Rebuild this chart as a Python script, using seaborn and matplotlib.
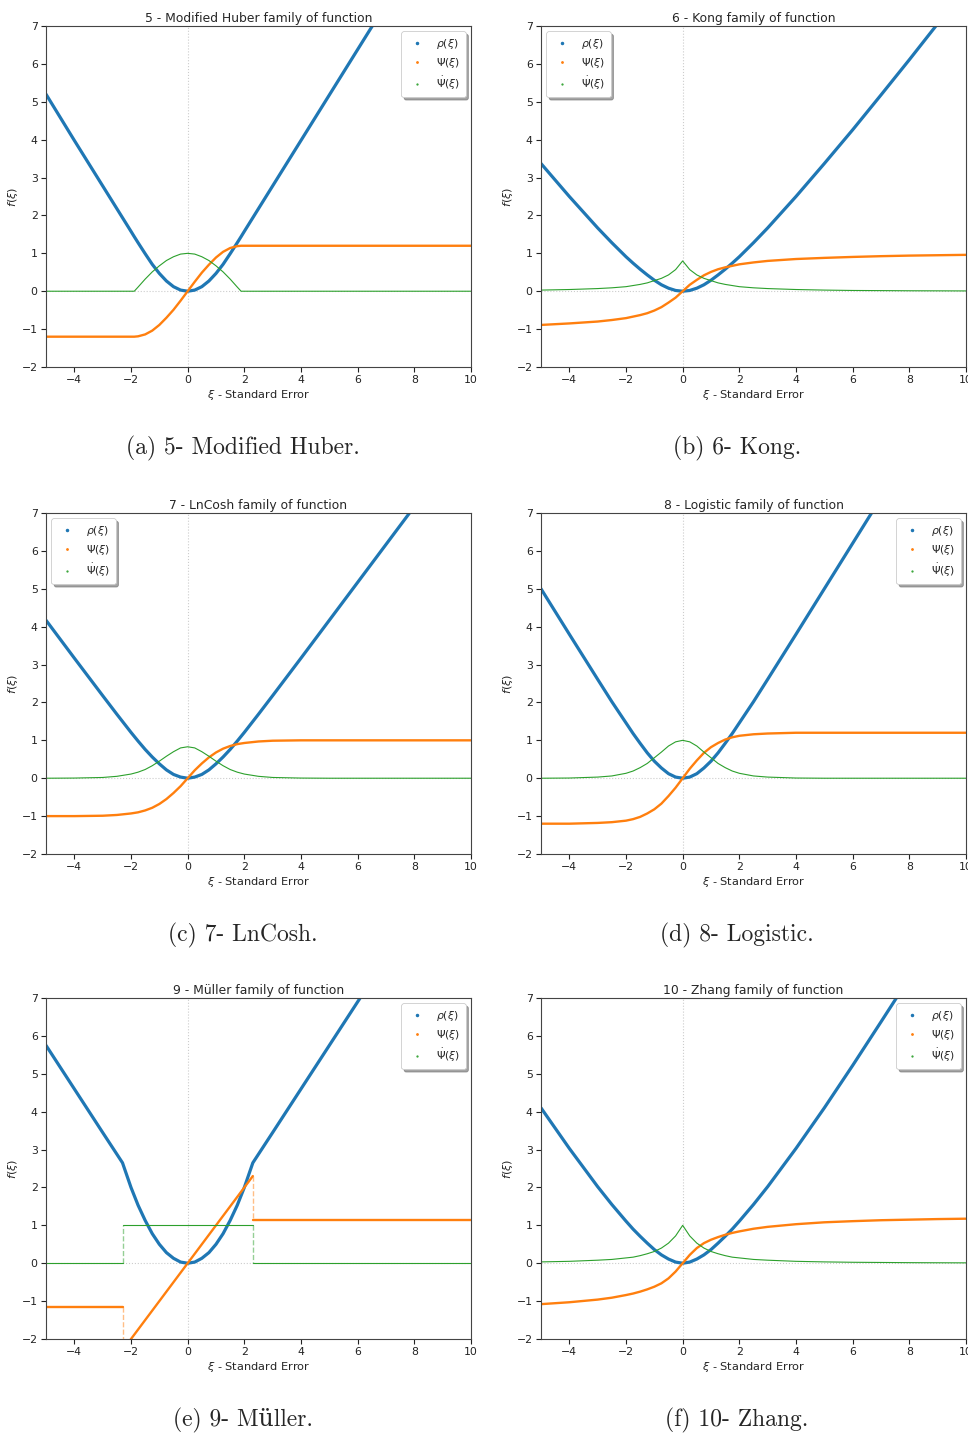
import matplotlib
matplotlib.use("Agg")
import matplotlib.pyplot as plt
from matplotlib.lines import Line2D
import seaborn as sns
import pandas as pd

# xi grid shared by the smooth families
XI = [-5, -4, -3, -2.5, -2, -1.75, -1.5, -1.25, -1, -0.75, -0.5, -0.25, 0,
      0.25, 0.5, 0.75, 1, 1.25, 1.5, 1.75, 2, 2.5, 3, 4, 5, 6, 7, 8, 9, 10]

# 5 - Modified Huber
HUBER_XI = [-5, -4, -3, -2.5, -2, -1.885, -1.75, -1.5, -1.25, -1, -0.75, -0.5, -0.25, 0,
            0.25, 0.5, 0.75, 1, 1.25, 1.5, 1.75, 1.885, 2, 2.5, 3, 4, 5, 6, 7, 8, 9, 10]
HUBER_RHO = [5.2, 3.98, 2.78, 2.18, 1.58, 1.44, 1.28, 0.99, 0.71, 0.47, 0.27, 0.12, 0.03, 0,
             0.03, 0.12, 0.27, 0.47, 0.71, 0.99, 1.28, 1.44, 1.58, 2.18, 2.78, 3.98, 5.18,
             6.38, 7.58, 8.78, 9.98, 11.18]
HUBER_PSI = [-1.2, -1.2, -1.2, -1.2, -1.2, -1.2, -1.19, -1.14, -1.04, -0.89, -0.70, -0.49, -0.25, 0,
             0.25, 0.49, 0.70, 0.89, 1.04, 1.14, 1.19, 1.2, 1.2, 1.2, 1.2, 1.2, 1.2,
             1.2, 1.2, 1.2, 1.2, 1.2]
HUBER_DPSI = [0, 0, 0, 0, 0, 0, 0.11, 0.32, 0.51, 0.67, 0.81, 0.91, 0.98, 1.0,
              0.98, 0.91, 0.81, 0.67, 0.51, 0.32, 0.11, 0, 0, 0, 0, 0, 0, 0, 0, 0, 0, 0]

# 6 - Kong
KONG_RHO = [3.37, 2.50, 1.67, 1.28, 0.91, 0.74, 0.58, 0.43, 0.29, 0.17, 0.08, 0.02, 0,
            0.02, 0.08, 0.17, 0.29, 0.43, 0.58, 0.74, 0.91, 1.28, 1.67, 2.50, 3.37, 4.26,
            5.18, 6.11, 7.06, 8.01]
KONG_PSI = [-0.89, -0.85, -0.80, -0.76, -0.71, -0.67, -0.63, -0.58, -0.51, -0.42, -0.30, -0.17, 0,
            0.17, 0.30, 0.42, 0.51, 0.58, 0.63, 0.67, 0.71, 0.76, 0.80, 0.85, 0.88, 0.905,
            0.925, 0.94, 0.95, 0.96]
KONG_DPSI = [0.03, 0.045, 0.07, 0.09, 0.12, 0.15, 0.18, 0.22, 0.28, 0.34, 0.43, 0.57, 0.8,
             0.57, 0.43, 0.34, 0.28, 0.22, 0.18, 0.15, 0.12, 0.09, 0.07, 0.045, 0.03, 0.02,
             0.016, 0.012, 0.01, 0.008]

# 7 - LnCosh
LNCOSH_RHO = [4.17, 3.17, 2.18, 1.69, 1.21, 0.98, 0.76, 0.56, 0.38, 0.22, 0.10, 0.03, 0,
              0.03, 0.10, 0.22, 0.38, 0.56, 0.76, 0.98, 1.21, 1.69, 2.18, 3.17, 4.17, 5.17,
              6.17, 7.17, 8.17, 9.17]
LNCOSH_PSI = [-1.0, -1.0, -0.99, -0.97, -0.93, -0.90, -0.85, -0.78, -0.68, -0.55, -0.39, -0.21, 0,
              0.21, 0.39, 0.55, 0.68, 0.78, 0.85, 0.90, 0.93, 0.97, 0.99, 1.0, 1.0, 1.0,
              1.0, 1.0, 1.0, 1.0]
LNCOSH_DPSI = [0, 0.004, 0.02, 0.05, 0.11, 0.16, 0.23, 0.33, 0.45, 0.58, 0.70, 0.80, 0.83,
               0.80, 0.70, 0.58, 0.45, 0.33, 0.23, 0.16, 0.11, 0.05, 0.02, 0.004, 0, 0,
               0, 0, 0, 0]

# 8 - Logistic
LOGISTIC_RHO = [5.0, 3.80, 2.61, 2.02, 1.46, 1.18, 0.92, 0.67, 0.45, 0.27, 0.12, 0.03, 0,
                0.03, 0.12, 0.27, 0.45, 0.67, 0.92, 1.18, 1.46, 2.02, 2.61, 3.80, 5.0, 6.2,
                7.4, 8.6, 9.8, 11.0]
LOGISTIC_PSI = [-1.2, -1.2, -1.18, -1.16, -1.12, -1.08, -1.02, -0.93, -0.82, -0.67, -0.47, -0.25, 0,
                0.25, 0.47, 0.67, 0.82, 0.93, 1.02, 1.08, 1.12, 1.16, 1.18, 1.2, 1.2, 1.2,
                1.2, 1.2, 1.2, 1.2]
LOGISTIC_DPSI = [0, 0.005, 0.03, 0.06, 0.13, 0.19, 0.28, 0.39, 0.54, 0.69, 0.85, 0.96, 1.0,
                 0.96, 0.85, 0.69, 0.54, 0.39, 0.28, 0.19, 0.13, 0.06, 0.03, 0.005, 0, 0,
                 0, 0, 0, 0]

# 9 - Muller
MULLER_XI = [-5, -4, -3, -2.3, -2, -1.75, -1.5, -1.25, -1, -0.75, -0.5, -0.25, 0,
             0.25, 0.5, 0.75, 1, 1.25, 1.5, 1.75, 2, 2.3, 3, 4, 5, 6, 7, 8, 9, 10]
MULLER_RHO = [5.75, 4.6, 3.45, 2.65, 2.0, 1.53, 1.13, 0.78, 0.5, 0.28, 0.13, 0.03, 0,
              0.03, 0.13, 0.28, 0.5, 0.78, 1.13, 1.53, 2.0, 2.65, 3.45, 4.6, 5.75, 6.9,
              8.05, 9.2, 10.35, 11.5]
MULLER_STEP_XI = [-5, -2.3, -2.3, 2.3, 2.3, 10]
MULLER_PSI = [-1.15, -1.15, -2.3, 2.3, 1.15, 1.15]
MULLER_DPSI = [0, 0, 1, 1, 0, 0]

# 10 - Zhang
ZHANG_RHO = [4.1, 3.03, 2.02, 1.55, 1.11, 0.90, 0.71, 0.53, 0.36, 0.22, 0.11, 0.03, 0,
             0.03, 0.11, 0.22, 0.36, 0.53, 0.71, 0.90, 1.11, 1.55, 2.02, 3.03, 4.1, 5.22,
             6.37, 7.53, 8.7, 9.87]
ZHANG_PSI = [-1.08, -1.03, -0.96, -0.91, -0.84, -0.80, -0.75, -0.69, -0.62, -0.53, -0.40, -0.22, 0,
             0.22, 0.40, 0.53, 0.62, 0.69, 0.75, 0.80, 0.84, 0.91, 0.96, 1.03, 1.08, 1.11,
             1.135, 1.15, 1.165, 1.175]
ZHANG_DPSI = [0.035, 0.05, 0.08, 0.10, 0.14, 0.16, 0.20, 0.25, 0.31, 0.40, 0.53, 0.72, 1.0,
              0.72, 0.53, 0.40, 0.31, 0.25, 0.20, 0.16, 0.14, 0.10, 0.08, 0.05, 0.035, 0.025,
              0.02, 0.015, 0.012, 0.01]

TITLES = ["5 - Modified Huber family of function", "6 - Kong family of function",
          "7 - LnCosh family of function", "8 - Logistic family of function",
          "9 - Müller family of function", "10 - Zhang family of function"]
CAPTIONS = ["(a) 5- Modified Huber.", "(b) 6- Kong.", "(c) 7- LnCosh.",
            "(d) 8- Logistic.", "(e) 9- Müller.", "(f) 10- Zhang."]
LEGEND_LOCS = ["upper right", "upper left", "upper left",
               "upper right", "upper right", "upper right"]

PANELS = [
    (HUBER_XI, HUBER_RHO, HUBER_XI, HUBER_PSI, HUBER_DPSI),
    (XI, KONG_RHO, XI, KONG_PSI, KONG_DPSI),
    (XI, LNCOSH_RHO, XI, LNCOSH_PSI, LNCOSH_DPSI),
    (XI, LOGISTIC_RHO, XI, LOGISTIC_PSI, LOGISTIC_DPSI),
    (MULLER_XI, MULLER_RHO, MULLER_STEP_XI, MULLER_PSI, MULLER_DPSI),
    (XI, ZHANG_RHO, XI, ZHANG_PSI, ZHANG_DPSI),
]

BLUE, ORANGE, GREEN = "#1f77b4", "#ff7f0e", "#2ca02c"

sns.set_style("ticks")
plt.rcParams["font.family"] = ["DejaVu Sans"]
plt.rcParams["axes.edgecolor"] = "#444444"
plt.rcParams["axes.linewidth"] = 0.8


def draw_curve(ax, xs, ys, color, lw):
    # a repeated x value marks a jump: draw it dashed and faint
    start = 0
    pieces = []
    for i in range(1, len(xs)):
        if xs[i] == xs[i - 1]:
            pieces.append((start, i, "-"))
            pieces.append((i - 1, i + 1, "--"))
            start = i
    pieces.append((start, len(xs), "-"))
    for a, b, ls in pieces:
        seg = pd.DataFrame({"xi": xs[a:b], "f": ys[a:b]})
        if ls == "-":
            sns.lineplot(data=seg, x="xi", y="f", ax=ax, color=color, lw=lw,
                         estimator=None, sort=False)
        else:
            sns.lineplot(data=seg, x="xi", y="f", ax=ax, color=color, lw=1.0,
                         linestyle="--", alpha=0.5, estimator=None, sort=False)


fig = plt.figure(figsize=(9.68, 14.35), dpi=100)
W, H = 968, 1435
lefts = [46, 541]
tops = [26, 513, 998]
aw, ah = 425, 341

for k, (xr, rho, xp, psi, dpsi) in enumerate(PANELS):
    row, col = divmod(k, 2)
    left = lefts[col]
    top = tops[row]
    ax = fig.add_axes([left / W, 1 - (top + ah) / H, aw / W, ah / H])

    ax.axhline(0, color="#cccccc", lw=0.8, ls=":", zorder=0)
    ax.axvline(0, color="#cccccc", lw=0.8, ls=":", zorder=0)

    draw_curve(ax, xr, rho, BLUE, 2.3)
    draw_curve(ax, xp, psi, ORANGE, 1.7)
    draw_curve(ax, xp, dpsi, GREEN, 0.8)

    ax.set_xlim(-5, 10)
    ax.set_ylim(-2, 7)
    ax.set_xticks([-4, -2, 0, 2, 4, 6, 8, 10])
    ax.set_yticks(range(-2, 8))
    ax.tick_params(labelsize=7.8, length=3.5, width=0.8, colors="#222222", pad=2.5)
    ax.set_title(TITLES[k], fontsize=8.9, pad=3)
    ax.set_xlabel(r"$\xi$ - Standard Error", fontsize=8.2, labelpad=2)
    ax.set_ylabel(r"$f(\xi)$", fontsize=8.2, labelpad=1)

    handles = [
        Line2D([0], [0], marker=".", ls="", color=BLUE, markersize=3),
        Line2D([0], [0], marker=".", ls="", color=ORANGE, markersize=2),
        Line2D([0], [0], marker=".", ls="", color=GREEN, markersize=1.2),
    ]
    labels = [r"$\rho(\xi)$", r"$\Psi(\xi)$", r"$\dot{\Psi}(\xi)$"]
    leg = ax.legend(handles, labels, loc=LEGEND_LOCS[k], fontsize=7.8, shadow=True,
                    fancybox=True, framealpha=1, handlelength=1.8, handletextpad=0.9,
                    labelspacing=0.45, borderpad=0.5, borderaxespad=0.5)
    leg.get_frame().set_linewidth(0.6)

    cx = left + 197 if col == 0 else left + 196
    cy = top + 422
    fig.text(cx / W, 1 - cy / H, CAPTIONS[k], ha="center", va="center",
             fontsize=17, family=["cmr10", "DejaVu Serif"])

fig.savefig("out.png", dpi=100)
